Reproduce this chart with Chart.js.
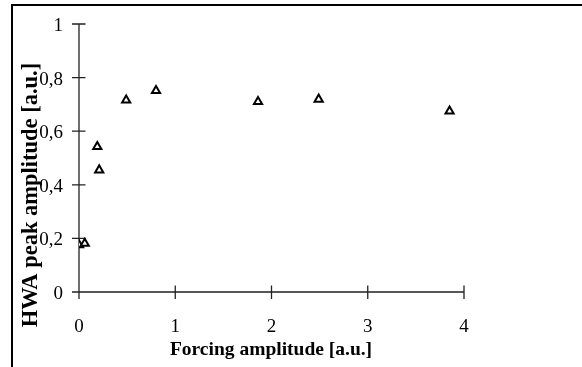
<!DOCTYPE html>
<html>
<head>
<meta charset="utf-8">
<script src="https://cdn.jsdelivr.net/npm/chart.js@4/dist/chart.umd.min.js"></script>
<style>
  html, body { margin: 0; padding: 0; background: #fff; }
  #wrap { width: 582px; height: 367px; }
</style>
</head>
<body>
<div id="wrap"><canvas id="c" width="582" height="367"></canvas></div>
<script>
// ---- data ----
const forcingAmplitude = [0.0, 0.06, 0.19, 0.21, 0.49, 0.80, 1.86, 2.49, 3.85];
const hwaPeakAmplitude = [0.176, 0.181, 0.542, 0.455, 0.716, 0.751, 0.71, 0.719, 0.675];
const xTickValues = [0, 1, 2, 3, 4];
const yTickValues = [0, 0.2, 0.4, 0.6, 0.8, 1];
const xTitle = 'Forcing amplitude [a.u.]';
const yTitle = 'HWA peak amplitude [a.u.]';

const points = forcingAmplitude.map((x, i) => ({ x: x, y: hwaPeakAmplitude[i] }));
const fmt = v => String(Math.round(v * 10) / 10).replace('.', ',');

const decor = {
  id: 'decor',
  beforeDraw(chart) {
    const ctx = chart.ctx;
    ctx.save();
    ctx.fillStyle = '#fff';
    ctx.fillRect(0, 0, chart.width, chart.height);
    ctx.strokeStyle = '#000';
    ctx.lineWidth = 2;
    ctx.beginPath();
    ctx.moveTo(12, chart.height + 5);
    ctx.lineTo(12, 5);
    ctx.lineTo(chart.width + 5, 5);
    ctx.stroke();
    ctx.restore();
  },
  beforeDatasetsDraw(chart) {
    const ctx = chart.ctx;
    const xs = chart.scales.x, ys = chart.scales.y;
    const a = chart.chartArea;
    ctx.save();
    ctx.strokeStyle = '#222';
    ctx.lineWidth = 1.3;
    ctx.beginPath();
    ctx.moveTo(a.left, ys.getPixelForValue(1));
    ctx.lineTo(a.left, a.bottom);
    ctx.moveTo(a.left, a.bottom);
    ctx.lineTo(xs.getPixelForValue(4), a.bottom);
    xTickValues.forEach(v => {
      const px = xs.getPixelForValue(v);
      ctx.moveTo(px, a.bottom - 6.5);
      ctx.lineTo(px, a.bottom + 7);
    });
    yTickValues.forEach(v => {
      const py = ys.getPixelForValue(v);
      ctx.moveTo(a.left - 7, py);
      ctx.lineTo(a.left + 6.5, py);
    });
    ctx.stroke();
    ctx.restore();
  },
  afterDraw(chart) {
    const ctx = chart.ctx;
    ctx.save();
    ctx.fillStyle = '#000';
    ctx.textAlign = 'center';
    ctx.textBaseline = 'middle';
    ctx.font = 'bold 19.5px "Liberation Serif", "Times New Roman", serif';
    ctx.fillText(xTitle, 271, 350);
    ctx.translate(31, 195);
    ctx.rotate(-Math.PI / 2);
    ctx.font = 'bold 22.5px "Liberation Serif", "Times New Roman", serif';
    ctx.fillText(yTitle, 0, 0);
    ctx.restore();
  }
};

new Chart(document.getElementById('c'), {
  type: 'scatter',
  data: {
    datasets: [{
      label: 'HWA peak amplitude',
      data: points,
      pointStyle: 'triangle',
      pointRadius: 4.7,
      pointHoverRadius: 4.7,
      pointBorderWidth: 2,
      pointBorderColor: '#000',
      pointBackgroundColor: '#fff',
      showLine: false
    }]
  },
  options: {
    responsive: false,
    animation: false,
    events: [],
    layout: { padding: { top: 24, right: 118, left: 0, bottom: 0 } },
    plugins: { legend: { display: false }, tooltip: { enabled: false } },
    scales: {
      x: {
        type: 'linear',
        min: 0, max: 4,
        afterFit(s) { s.height = 75; },
        afterBuildTicks(s) { s.ticks = xTickValues.map(v => ({ value: v })); },
        grid: { display: false, drawTicks: false },
        border: { display: false },
        ticks: {
          padding: 24,
          color: '#000',
          font: { family: '"Liberation Serif", "Times New Roman", serif', size: 19 },
          callback: v => fmt(v)
        }
      },
      y: {
        type: 'linear',
        min: 0, max: 1,
        afterFit(s) { s.width = 79; s.paddingTop = 0; s.paddingBottom = 0; },
        afterBuildTicks(s) { s.ticks = yTickValues.map(v => ({ value: v })); },
        grid: { display: false, drawTicks: false },
        border: { display: false },
        ticks: {
          padding: 16,
          labelOffset: 2,
          color: '#000',
          font: { family: '"Liberation Serif", "Times New Roman", serif', size: 19 },
          callback: v => fmt(v)
        }
      }
    }
  },
  plugins: [decor]
});
</script>
</body>
</html>
